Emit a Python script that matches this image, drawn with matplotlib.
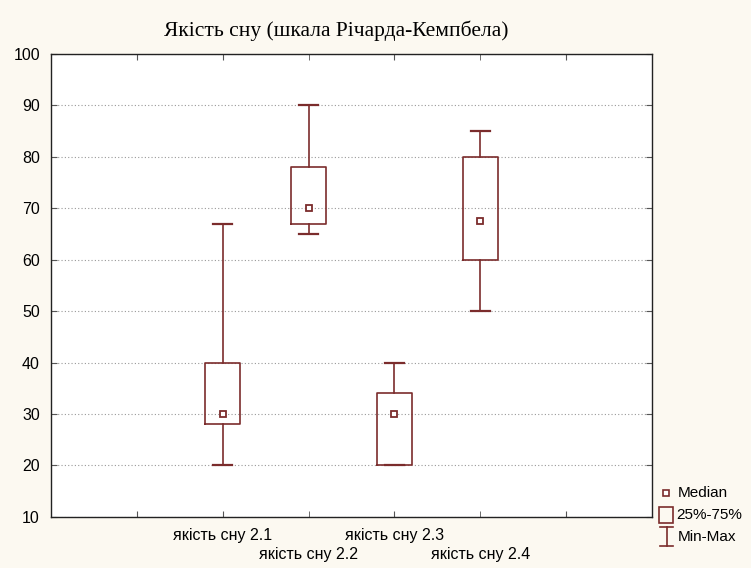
import matplotlib.pyplot as plt
from matplotlib.patches import Rectangle
from matplotlib.lines import Line2D

# box statistics
labels = ["якість сну 2.1", "якість сну 2.2", "якість сну 2.3", "якість сну 2.4"]
mins = [20, 65, 20, 50]
q1s = [28, 67, 20, 60]
medians = [30, 70, 30, 67.5]
q3s = [40, 78, 34, 80]
maxs = [67, 90, 40, 85]
positions = [2, 3, 4, 5]

col = "#7b2c2c"
bg = "#fcf9f1"

fig = plt.figure(figsize=(7.51, 5.68), dpi=100, facecolor=bg)
ax = fig.add_axes([0.068, 0.09, 0.8, 0.815])
ax.set_facecolor("white")

stats = []
for i in range(len(labels)):
    stats.append({"label": labels[i], "whislo": mins[i], "q1": q1s[i], "med": medians[i],
                  "q3": q3s[i], "whishi": maxs[i], "fliers": []})

ax.bxp(stats, positions=positions, widths=0.41, showfliers=False,
       boxprops=dict(color=col, linewidth=1.2),
       whiskerprops=dict(color=col, linewidth=1.2),
       capprops=dict(color=col, linewidth=1.6),
       medianprops=dict(linestyle="none"), capwidths=0.22)
ax.plot(positions, medians, linestyle="none", marker="s", markersize=5,
        markerfacecolor="white", markeredgecolor=col, markeredgewidth=1.3)

ax.set_xlim(0, 7)
ax.set_ylim(10, 100)
ax.set_yticks(range(10, 101, 10))
ax.yaxis.grid(True, linestyle=(0, (1, 2)), color="#999999", linewidth=0.8)
ax.set_axisbelow(True)

# staggered labels: upper row on major ticks, lower row on minor ticks
ax.set_xticks([1, 2, 4, 6])
ax.set_xticklabels(["", labels[0], labels[2], ""], fontsize=11.5, family="Liberation Sans")
ax.set_xticks([3, 5], minor=True)
ax.set_xticklabels([labels[1], labels[3]], minor=True, fontsize=11.5, family="Liberation Sans")
for t in ax.get_yticklabels():
    t.set_fontsize(11.5)
    t.set_family("Liberation Sans")
ax.tick_params(which="both", direction="in", top=True, right=True, length=4, color="#555555")
ax.tick_params(axis="x", which="major", pad=8)
ax.tick_params(axis="x", which="minor", pad=22)
ax.tick_params(axis="y", pad=8)
for s in ax.spines.values():
    s.set_color("#222222")
    s.set_linewidth(1.0)

fig.text(0.448, 0.946, "Якість сну (шкала Річарда-Кемпбела)", ha="center", va="center",
         fontsize=15.5, family="Liberation Serif")

# legend drawn by hand at the lower right
fig.add_artist(Line2D([0.887], [0.132], marker="s", markersize=4.5, markerfacecolor="white",
                      markeredgecolor=col, markeredgewidth=1.2, transform=fig.transFigure))
fig.text(0.903, 0.132, "Median", fontsize=11, va="center", family="Liberation Sans")
fig.add_artist(Rectangle((0.8775, 0.079), 0.0185, 0.028, fill=False, edgecolor=col,
                         linewidth=1.2, transform=fig.transFigure))
fig.text(0.901, 0.093, "25%-75%", fontsize=11, va="center", family="Liberation Sans")
fig.add_artist(Line2D([0.888, 0.888], [0.039, 0.072], color=col, linewidth=1.2, transform=fig.transFigure))
fig.add_artist(Line2D([0.879, 0.896], [0.072, 0.072], color=col, linewidth=1.2, transform=fig.transFigure))
fig.add_artist(Line2D([0.879, 0.896], [0.039, 0.039], color=col, linewidth=1.2, transform=fig.transFigure))
fig.text(0.903, 0.055, "Min-Max", fontsize=11, va="center", family="Liberation Sans")

plt.savefig("out.png", facecolor=bg)
